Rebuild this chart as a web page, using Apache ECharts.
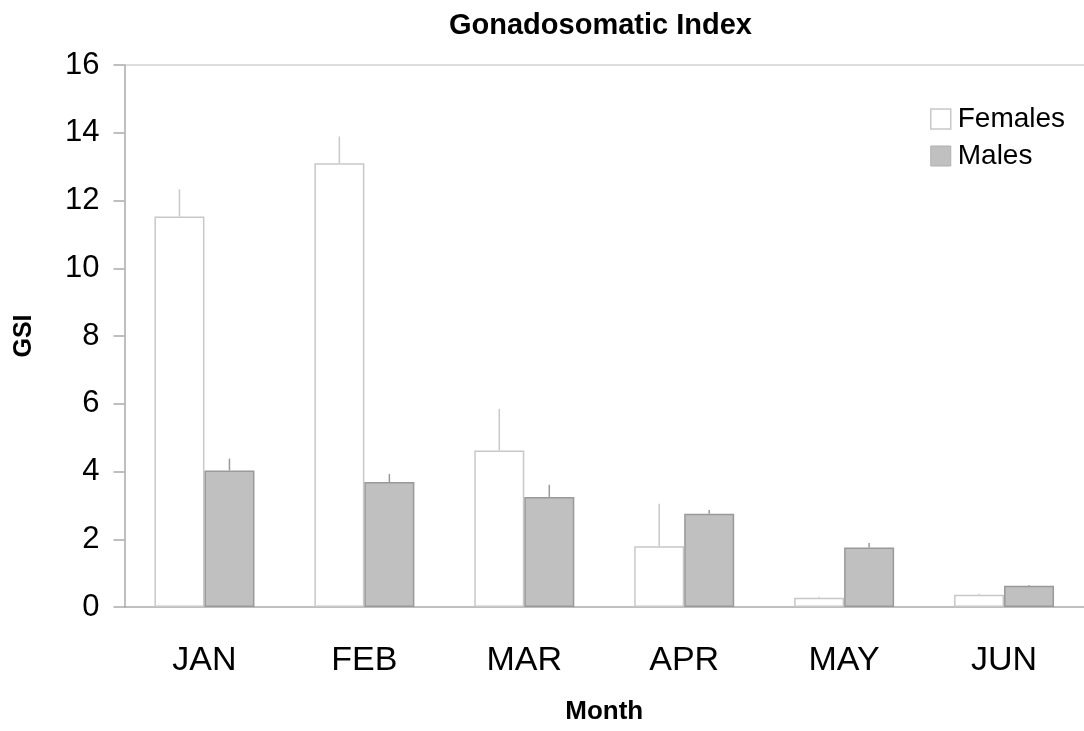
<!DOCTYPE html>
<html>
<head>
<meta charset="utf-8">
<script src="https://cdn.jsdelivr.net/npm/echarts@6/dist/echarts.min.js"></script>
<style>
  html, body { margin: 0; padding: 0; background: #fff; }
  #chart { width: 1084px; height: 731px; }
</style>
</head>
<body>
<div id="chart"></div>
<script>
const months = ["JAN", "FEB", "MAR", "APR", "MAY", "JUN"];
const females = [11.53, 13.1, 4.62, 1.79, 0.27, 0.36];
const femalesErr = [12.33, 13.89, 5.85, 3.05, 0.3, 0.39];
const males = [4.03, 3.69, 3.25, 2.75, 1.76, 0.63];
const malesErr = [4.38, 3.93, 3.61, 2.86, 1.89, 0.65];

const font = "Liberation Sans, Arial, sans-serif";
const chart = echarts.init(document.getElementById("chart"));

// upper-only error whisker, shifted onto its bar
function whisker(offset, color) {
  return function (params, api) {
    const lo = api.coord([api.value(0), api.value(1)]);
    const hi = api.coord([api.value(0), api.value(2)]);
    return {
      type: "line",
      shape: { x1: lo[0] + offset, y1: lo[1], x2: hi[0] + offset, y2: hi[1] },
      style: { stroke: color, lineWidth: 1.5 },
    };
  };
}

const option = {
  animation: false,
  title: {
    text: "Gonadosomatic Index",
    left: 449,
    top: 6,
    padding: [5, 0, 5, 0],
    textStyle: { fontFamily: font, fontSize: 29, fontWeight: "bold", color: "#000" },
  },
  legend: {
    data: [
      { name: "Females", itemStyle: { color: "#fff", borderColor: "#c8c8c8", borderWidth: 1.5 } },
      { name: "Males", itemStyle: { color: "#c0c0c0", borderColor: "#b0b0b0", borderWidth: 1 } },
    ],
    icon: "rect",
    orient: "vertical",
    left: 925,
    top: 100,
    itemWidth: 20,
    itemHeight: 20,
    itemGap: 9,
    textStyle: { fontFamily: font, fontSize: 28, color: "#000", padding: [0, 0, 0, 2] },
  },
  grid: { left: 124.5, right: 0, top: 65, bottom: 124 },
  xAxis: {
    type: "category",
    data: months,
    name: "Month",
    nameLocation: "middle",
    nameGap: 92,
    nameTextStyle: { fontFamily: font, fontSize: 26, fontWeight: "bold", color: "#000" },
    axisTick: { show: false },
    axisLine: { lineStyle: { color: "#aaa", width: 1.5 } },
    axisLabel: { fontFamily: font, fontSize: 34, color: "#000", margin: 37 },
  },
  yAxis: {
    type: "value",
    min: 0,
    max: 16,
    interval: 2,
    name: "GSI",
    nameLocation: "middle",
    nameGap: 88,
    nameTextStyle: { fontFamily: font, fontSize: 25, fontWeight: "bold", color: "#000" },
    axisLine: { show: true, lineStyle: { color: "#aaa", width: 1.5 } },
    axisTick: { show: true, inside: false, length: 11, lineStyle: { color: "#aaa", width: 1.5 } },
    axisLabel: { fontFamily: font, fontSize: 31, color: "#000", margin: 25 },
    splitLine: {
      show: true,
      lineStyle: {
        color: ["transparent", "transparent", "transparent", "transparent", "transparent",
                "transparent", "transparent", "transparent", "#ddd"],
        width: 2,
      },
    },
  },
  series: [
    {
      name: "Females",
      type: "bar",
      barWidth: 50,
      barGap: "0%",
      data: females,
      itemStyle: { color: "#fff", borderColor: "#c8c8c8", borderWidth: 1.5 },
    },
    {
      name: "Males",
      type: "bar",
      barWidth: 50,
      data: males,
      itemStyle: { color: "#c0c0c0", borderColor: "#999", borderWidth: 1.5 },
    },
    {
      type: "custom",
      renderItem: whisker(-25, "#c8c8c8"),
      data: females.map((v, i) => [i, v, femalesErr[i]]),
      encode: { x: 0, y: [1, 2] },
      z: 3,
    },
    {
      type: "custom",
      renderItem: whisker(25, "#999"),
      data: males.map((v, i) => [i, v, malesErr[i]]),
      encode: { x: 0, y: [1, 2] },
      z: 3,
    },
  ],
};

chart.setOption(option);
</script>
</body>
</html>
